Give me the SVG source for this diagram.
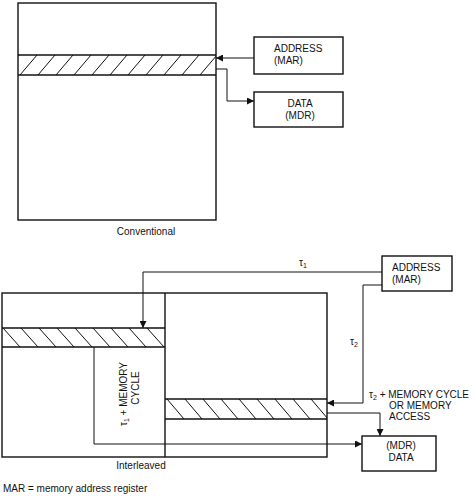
<svg xmlns="http://www.w3.org/2000/svg" width="474" height="496" viewBox="0 0 474 496">
<style>
  text { font-family: "Liberation Sans", Arial, sans-serif; font-size: 10px; fill: #111; }
  .box { fill: #fff; stroke: #111; stroke-width: 1.4; }
  .mem { fill: none; stroke: #111; stroke-width: 1.4; }
  .hatch { fill: none; stroke: #111; stroke-width: 1; }
  .conn { fill: none; stroke: #111; stroke-width: 1; }
</style>
<defs>
  <marker id="arr" viewBox="0 0 8 8" refX="8" refY="4" markerWidth="7" markerHeight="7" orient="auto" markerUnits="userSpaceOnUse">
    <path d="M0,0 L8,4 L0,8 Z" fill="#111"/>
  </marker>
  <clipPath id="c1"><rect x="18" y="55" width="198" height="20"/></clipPath>
  <clipPath id="c2"><rect x="2" y="328" width="163" height="19"/></clipPath>
  <clipPath id="c3"><rect x="165" y="399" width="162" height="20"/></clipPath>
</defs>
<rect width="474" height="496" fill="#fff"/>

<g id="conventional-memory">
  <rect class="mem" x="18" y="3" width="198" height="217"/>
  <line class="mem" x1="18" y1="55" x2="216" y2="55"/>
  <line class="mem" x1="18" y1="75" x2="216" y2="75"/>
  <path class="hatch" clip-path="url(#c1)" d="M2,75 L19,55 M20,75 L37,55 M38,75 L55,55 M56,75 L73,55 M74,75 L91,55 M92,75 L109,55 M110,75 L127,55 M128,75 L145,55 M146,75 L163,55 M164,75 L181,55 M182,75 L199,55 M200,75 L217,55"/>
  <text x="146" y="235" text-anchor="middle">Conventional</text>
</g>

<g id="address-top">
  <rect class="box" x="254" y="37" width="89" height="37"/>
  <text x="274" y="52">ADDRESS</text>
  <text x="274" y="64">(MAR)</text>
</g>

<g id="data-top">
  <rect class="box" x="254" y="92" width="89" height="35"/>
  <text x="300" y="107" text-anchor="middle">DATA</text>
  <text x="300" y="119" text-anchor="middle">(MDR)</text>
</g>

<g id="interleaved-memory">
  <rect class="mem" x="2" y="293" width="325" height="164"/>
  <line class="mem" x1="165" y1="293" x2="165" y2="457"/>
  <line class="mem" x1="2" y1="328" x2="165" y2="328"/>
  <line class="mem" x1="2" y1="347" x2="165" y2="347"/>
  <path class="hatch" clip-path="url(#c2)" d="M-15,328 L2,347 M3,328 L20,347 M21,328 L38,347 M39,328 L56,347 M57,328 L74,347 M75,328 L92,347 M93,328 L110,347 M111,328 L128,347 M129,328 L146,347 M147,328 L164,347"/>
  <line class="mem" x1="165" y1="399" x2="327" y2="399"/>
  <line class="mem" x1="165" y1="419" x2="327" y2="419"/>
  <path class="hatch" clip-path="url(#c3)" d="M167,399 L184,419 M185,399 L202,419 M203,399 L220,419 M221,399 L238,419 M239,399 L256,419 M257,399 L274,419 M275,399 L292,419 M293,399 L310,419 M311,399 L328,419"/>
  <path class="conn" d="M94,347 L94,444 L165,444"/>
  <text transform="translate(127,394) rotate(-90)" text-anchor="middle">τ<tspan font-size="7" dy="2">1</tspan><tspan dy="-2"> + MEMORY</tspan></text>
  <text transform="translate(139,388) rotate(-90)" text-anchor="middle">CYCLE</text>
  <text x="141" y="469" text-anchor="middle">Interleaved</text>
</g>

<g id="address-bottom">
  <rect class="box" x="382" y="256" width="70" height="35"/>
  <text x="392" y="271">ADDRESS</text>
  <text x="392" y="283">(MAR)</text>
</g>

<g id="data-bottom">
  <rect class="box" x="362" y="436" width="74" height="35"/>
  <text x="401" y="449" text-anchor="middle">(MDR)</text>
  <text x="401" y="461" text-anchor="middle">DATA</text>
</g>

<g id="connectors">
  <path class="conn" d="M254,58 L216,58" marker-end="url(#arr)"/>
  <path class="conn" d="M216,69 L227,69 L227,101 L254,101" marker-end="url(#arr)"/>
  <path class="conn" d="M382,272 L143,272 L143,328" marker-end="url(#arr)"/>
  <path class="conn" d="M382,285 L363,285 L363,403 L327,403" marker-end="url(#arr)"/>
  <path class="conn" d="M327,413 L380,413 L380,436" marker-end="url(#arr)"/>
  <path class="conn" d="M165,444 L362,444" marker-end="url(#arr)"/>
</g>

<g id="labels">
  <text x="299" y="266">τ<tspan font-size="7" dy="2">1</tspan></text>
  <text x="350" y="345">τ<tspan font-size="7" dy="2">2</tspan></text>
  <text x="369" y="398">τ<tspan font-size="7" dy="2">2</tspan><tspan dy="-2"> + MEMORY CYCLE</tspan></text>
  <text x="389" y="409">OR MEMORY</text>
  <text x="389" y="420">ACCESS</text>
  <text x="3" y="492">MAR = memory address register</text>
</g>
</svg>
